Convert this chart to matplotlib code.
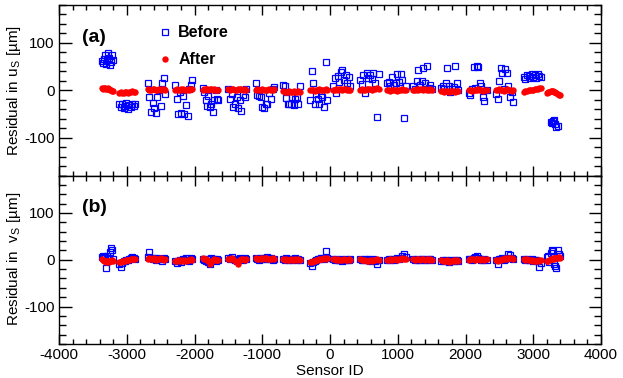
import numpy as np
import matplotlib
matplotlib.use('Agg')
import matplotlib.pyplot as plt
from matplotlib.ticker import MultipleLocator

plt.rcParams['font.family'] = ['Liberation Sans', 'DejaVu Sans']
plt.rcParams['mathtext.fontset'] = 'custom'
plt.rcParams['mathtext.rm'] = 'Liberation Sans'
plt.rcParams['mathtext.it'] = 'Liberation Sans:italic'
plt.rcParams['axes.unicode_minus'] = False

nan = np.nan

# sensor IDs, one line per module group
sensor_id = [
    -3362, -3348, -3335, -3320, -3306, -3291, -3278, -3263, -3249, -3234, -3219, -3205,
    -3112, -3090, -3068, -3047, -3026, -3005, -2984, -2963, -2942, -2921, -2900, -2880,
    -2688, -2665, -2641, -2618, -2594, -2571, -2547, -2524, -2500, -2477, -2453, -2432,
    -2288, -2265, -2241, -2218, -2195, -2172, -2149, -2126, -2103, -2080, -2058, -2037,
    -1878, -1857, -1836, -1815, -1794, -1773, -1752, -1731, -1710, -1689, -1670, -1652,
    -1500, -1476, -1452, -1428, -1404, -1380, -1356, -1332, -1308, -1284, -1260, -1237,
    -1098, -1073, -1048, -1023, -998, -973, -948, -923, -898, -873, -848, -823,
    -690, -668, -646, -624, -602, -580, -558, -536, -514, -492, -469, -446,
    -295, -272, -249, -226, -203, -180, -157, -134, -111, -88, -65, -45,
    45, 68, 91, 114, 137, 160, 183, 206, 229, 252, 275, 295,
    442, 467, 492, 517, 542, 567, 592, 617, 642, 667, 692, 718,
    842, 867, 892, 917, 942, 967, 992, 1017, 1042, 1067, 1092, 1118,
    1230, 1255, 1280, 1305, 1330, 1355, 1380, 1405, 1430, 1455, 1480, 1505,
    1640, 1663, 1686, 1709, 1732, 1755, 1778, 1801, 1824, 1847, 1870, 1890,
    2050, 2073, 2096, 2119, 2142, 2165, 2188, 2211, 2234, 2257, 2280, 2312,
    2450, 2473, 2496, 2519, 2542, 2565, 2588, 2611, 2634, 2657, 2680, 2702,
    2862, 2885, 2908, 2931, 2954, 2977, 3000, 3023, 3046, 3069, 3092, 3114,
    3205, 3222, 3239, 3256, 3273, 3290, 3307, 3324, 3341, 3358, 3375, 3392,
]

# residual in u_S [um]
u_before = [
    62, 58, 66, 75, 55, 63, 78, 68, 54, 60, 75, 64,
    -28, -35, -30, -38, -33, -27, -40, -31, -36, -29, -34, -30,
    16, -14, -45, -27, -38, -48, -14, 0, -33, 16, 25, -8,
    11, -19, -50, -3, -47, -12, -51, -31, -54, 3, 11, 22,
    5, -3, -21, -33, -12, -36, -28, -45, -21, 0, -18, -21,
    2, -19, -8, -36, -29, -15, -38, -21, -43, -10, -14, 3,
    16, -10, -12, -15, -36, -37, -28, -29, -6, -18, 2, 6,
    11, 10, -16, -29, -28, -29, -15, -31, -19, -14, -28, 8,
    -20, 41, 15, -28, -8, -19, -28, -10, -14, -36, 59, -21,
    10, 25, -6, 30, 18, 38, 42, 22, 33, 15, 28, 8,
    22, 13, 32, -5, 36, 25, 32, 23, 36, 15, -56, 34,
    15, 18, 8, 27, 12, 15, 35, 18, 35, 22, -59, 10,
    8, 3, 20, 43, 11, 20, 47, 15, 51, 5, 12, 2,
    5, 8, 3, 16, 48, 10, -4, 3, 6, 51, 16, 0,
    -6, -10, 2, 50, 5, 51, 49, 16, 10, -14, -22, 0,
    -8, -19, 20, 48, 37, 2, 44, 37, 10, -15, -3, -24,
    28, 24, 33, 30, 26, 35, 29, 32, 25, 34, 31, 28,
    nan, nan, nan, -66, -69, -64, -63, -72, -78, -75, nan, nan,
]
u_after = [
    4, 3, 5, 4, 2, 3, 4, 2, 1, 0, -1, -2,
    -5, -4, -6, -5, -3, -4, -5, -3, -4, -2, -3, -4,
    2, 1, 0, 2, 3, 1, 0, 2, 1, 3, 2, 1,
    1, 2, 0, 1, 2, 3, 1, 0, 2, 1, 2, 3,
    1, 2, 3, 2, 1, 2, 3, 1, 2, 1, 0, 1,
    2, 1, 3, 2, 1, 0, 2, 3, 2, 1, 2, 1,
    1, 2, 0, 1, 2, 1, 0, 1, 2, 0, 1, 2,
    -2, -3, -4, -3, -2, -3, -4, -2, -3, -3, -2, -3,
    0, 1, 0, -1, 0, 1, 2, 1, 0, 1, 2, 1,
    1, 0, 2, 1, 3, 2, 1, 2, 3, 1, 0, 1,
    1, 2, 1, 0, 2, 3, 2, 1, 3, 2, 4, 3,
    0, 1, -1, 0, 1, 0, -1, 0, 1, 2, 1, 0,
    1, 0, 2, 1, 3, 2, 1, 2, 0, 1, 2, 1,
    -1, -2, -3, -2, -1, -3, -2, -1, -2, -3, -2, -1,
    0, 1, -1, 0, 1, 0, 2, 1, 0, -1, 0, 1,
    1, 0, 2, 1, 0, -1, 1, 2, 0, 1, -1, 0,
    -3, -2, -1, 0, 0, 1, 1, 2, 2, 3, 4, 5,
    -5, -4, -3, -2, -2, -2, -3, -4, -5, -7, -9, -11,
]

# residual in v_S [um]
v_before = [
    6, 8, 4, 5, -17, 7, 3, 2, 17, 25, 20, 2,
    -10, -15, -6, -3, -2, 0, -1, 2, 3, 6, 4, 2,
    5, 16, 3, 2, 4, 0, 3, 1, 2, -2, 3, 1,
    -3, -6, -2, 0, -4, 2, -1, 3, 0, -2, 4, 2,
    2, 0, -3, 1, -5, -8, 3, 0, 2, -2, 1, 0,
    3, 1, 5, 2, 0, -3, 1, 4, 2, 0, 3, 1,
    3, 2, 0, 4, 1, 3, 2, 5, 1, 3, 0, 2,
    2, 0, 3, 1, -1, 2, 0, 1, 3, 0, 2, -1,
    -6, -13, -4, -2, 0, 2, 1, 3, 4, 2, 18, 3,
    1, 0, 2, -1, 0, 1, -2, 0, 1, -1, 0, 1,
    1, 0, -1, 2, 0, 1, -2, 0, 1, -2, -9, 0,
    0, 1, -1, 2, 0, 1, 3, 2, 4, 8, 12, 6,
    2, 0, 1, -1, 0, 2, 1, -1, 0, 1, 2, 0,
    -2, -1, -3, 0, -2, -4, -1, -3, -2, 0, -1, -2,
    1, 2, 0, 3, 5, 8, 4, 2, 0, -1, 1, 0,
    0, -10, 2, 1, 3, 0, 2, 4, 13, 10, 3, 2,
    1, 0, 2, -1, 0, 1, -2, 0, -1, -3, -15, -6,
    5, 7, -4, 14, 21, 18, -8, -13, -18, 20, 12, 8,
]
v_after = [
    2, 0, -2, -3, -4, -3, -2, -4, -3, -2, -1, -2,
    -5, -4, -3, -3, -2, -1, -1, 0, 1, 1, 2, 1,
    2, 3, 1, 2, 3, 0, 2, 1, 3, 2, -1, 1,
    -2, -3, -1, -2, 0, -3, -1, -2, 0, -1, 1, 0,
    3, 2, 1, 0, -3, -9, -5, 0, 1, 0, -1, 0,
    2, 1, 3, 1, -2, -5, -8, 0, 1, 2, 0, 1,
    3, 2, 1, 3, 2, 4, 3, 2, 1, 2, 3, 1,
    1, 0, 2, 0, -1, 1, 0, -1, 1, 0, 1, -1,
    -5, -4, -3, -2, -1, 0, 1, 1, 2, 3, 2, 3,
    2, 1, 0, 1, 0, -1, 0, 1, -1, 0, 1, 0,
    1, 0, -1, 0, -2, -3, -1, -2, 0, -1, 1, 0,
    0, -1, 1, 0, 2, 1, 0, 1, 2, 3, 2, 1,
    1, 0, 2, 1, 0, 1, 2, 0, 1, 0, 1, 0,
    -1, -2, -3, -2, -1, -4, -3, -2, -1, -2, -1, -2,
    0, 1, 2, 1, 0, 2, 1, 0, 1, 2, 0, 1,
    0, -2, -1, 0, 1, 2, 3, 2, 3, 4, 3, 2,
    1, 0, 1, -1, 0, -2, -1, -2, -3, -1, -2, -1,
    -3, -2, 0, 1, 2, 3, 2, 3, 4, 3, 5, 4,
]

fig = plt.figure(figsize=(6.23, 3.78), dpi=100)
ax_u = fig.add_axes([0.0947, 0.5357, 0.870, 0.4511])
ax_v = fig.add_axes([0.0947, 0.0899, 0.870, 0.4458])

for ax, before, after, tag in [(ax_u, u_before, u_after, '(a)'),
                               (ax_v, v_before, v_after, '(b)')]:
    ax.plot(sensor_id, before, 's', mfc='none', mec='blue', ms=4.7, mew=0.9,
            label='Before')
    ax.plot(sensor_id, after, 'o', color='red', mec='none', ms=4.6,
            label='After')
    ax.set_xlim(-4000, 4000)
    ax.set_ylim(-180, 180)
    ax.xaxis.set_major_locator(MultipleLocator(1000))
    ax.xaxis.set_minor_locator(MultipleLocator(200))
    ax.yaxis.set_major_locator(MultipleLocator(100))
    ax.yaxis.set_minor_locator(MultipleLocator(20))
    ax.tick_params(which='both', direction='in', top=True, right=True,
                   labelsize=11, pad=3, width=1)
    ax.tick_params(axis='x', which='major', length=7.5)
    ax.tick_params(axis='x', which='minor', length=3.7)
    ax.tick_params(axis='y', which='major', length=9)
    ax.tick_params(axis='y', which='minor', length=4.7)
    for s in ax.spines.values():
        s.set_linewidth(1)
    ax.text(0.042, 0.81, tag, transform=ax.transAxes, ha='left', va='center',
            fontsize=14, fontweight='bold')

ax_u.tick_params(axis='x', labelbottom=False)
ax_u.legend(loc='upper left', bbox_to_anchor=(0.155, 0.965), frameon=False,
            numpoints=1, handlelength=1.0, handletextpad=0.3, labelspacing=0.75,
            prop={'weight': 'bold', 'size': 11.5})

fig.text(14/623, 1 - 91/378, r'Residual in u$_\mathrm{S}$ [µm]', rotation=90,
         ha='center', va='center', fontsize=11)
fig.text(14/623, 1 - 259/378, r'Residual in  v$_\mathrm{S}$ [µm]', rotation=90,
         ha='center', va='center', fontsize=11)
ax_v.set_xlabel('Sensor ID', fontsize=11, labelpad=1)

fig.savefig('out.png', dpi=100)
